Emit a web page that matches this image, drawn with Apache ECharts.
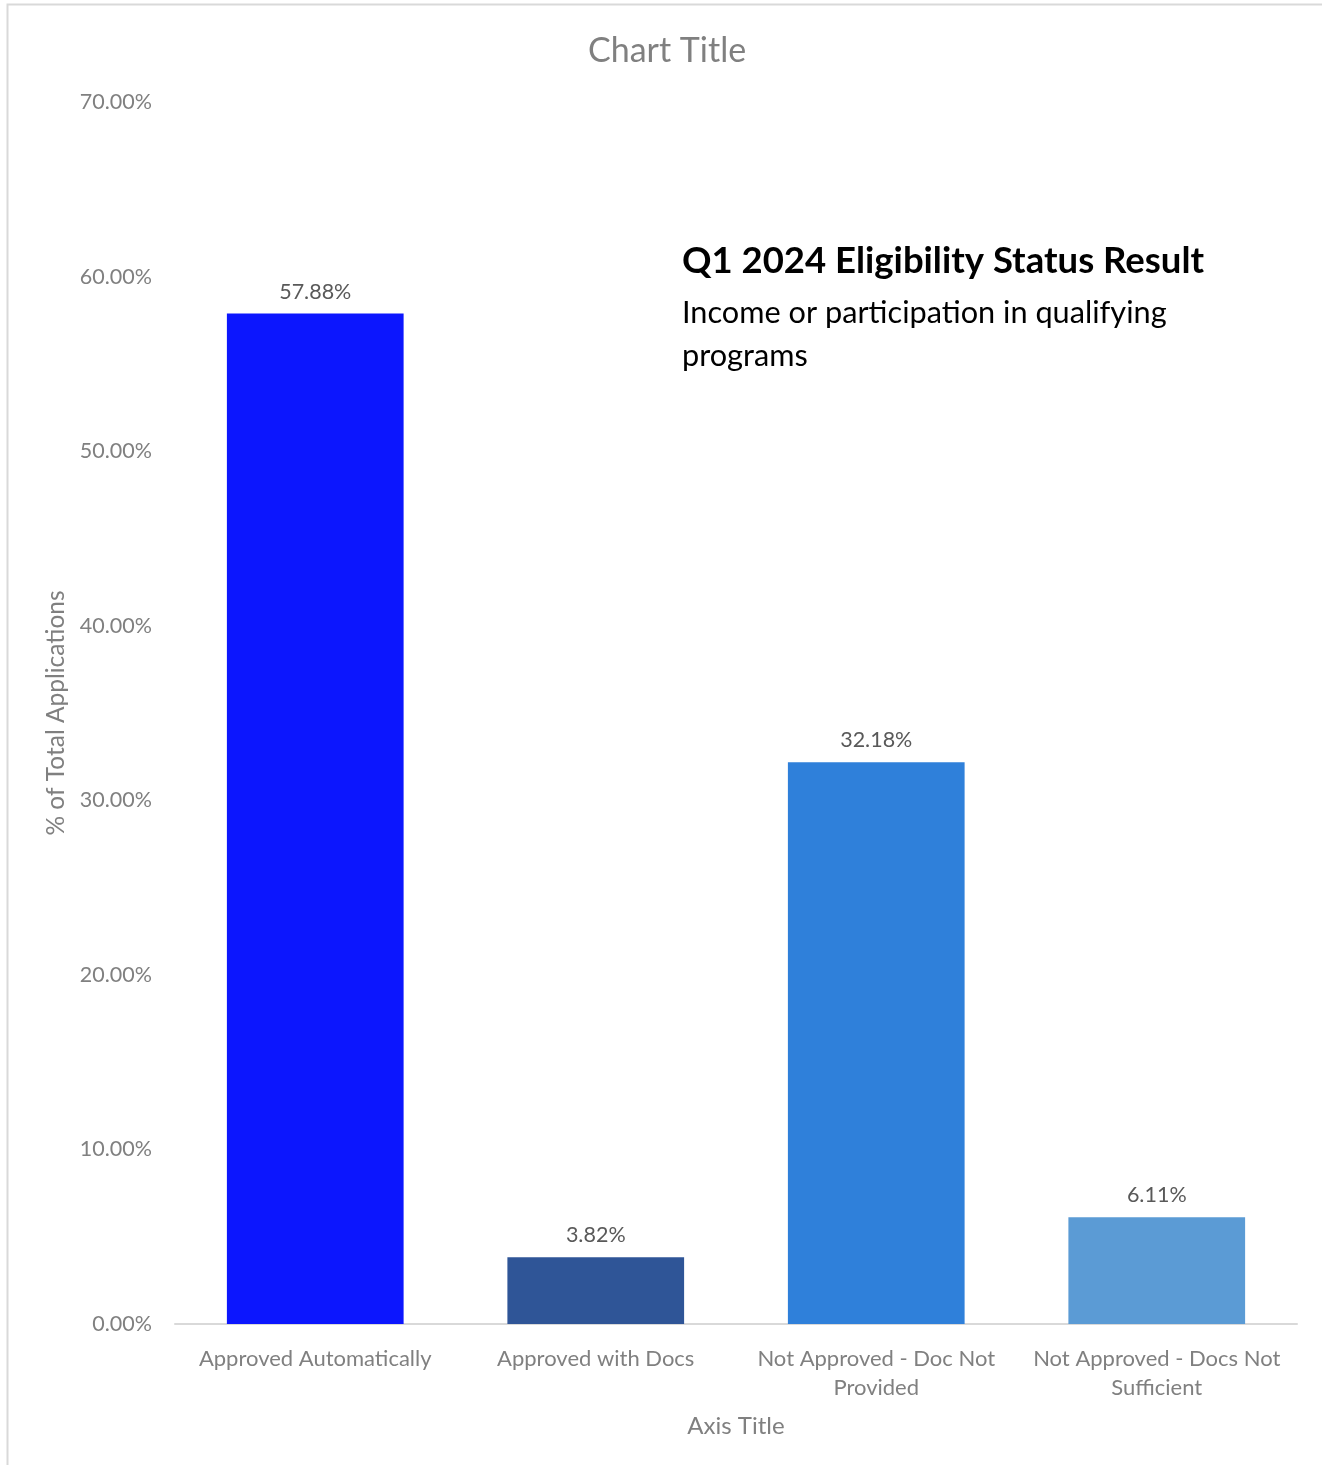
<!DOCTYPE html>
<html>
<head>
<meta charset="utf-8">
<script src="https://cdn.jsdelivr.net/npm/echarts@6/dist/echarts.min.js"></script>
<style>
html,body{margin:0;padding:0;background:#fff;}
#main{width:1322px;height:1465px;}
</style>
</head>
<body>
<div id="main"></div>
<script>
const categories = ['Approved Automatically', 'Approved with Docs', 'Not Approved - Doc Not\nProvided', 'Not Approved - Docs Not\nSufficient'];
const values = [0.5788, 0.0382, 0.3218, 0.0611];
const barColors = ['#0c16fe', '#2f5597', '#2f80da', '#5b9bd5'];
const yTicks = { min: 0, max: 0.7, interval: 0.1 };

const FONT = 'Lato, "Noto Sans", sans-serif';
const chart = echarts.init(document.getElementById('main'), null, { renderer: 'canvas' });
chart.setOption({
  backgroundColor: '#fff',
  animation: false,
  title: {
    text: 'Chart Title',
    left: 583,
    top: 29,
    textStyle: { color: '#808080', fontSize: 34, fontWeight: 'normal', fontFamily: FONT }
  },
  grid: { left: 175, right: 25, top: 102, bottom: 141, containLabel: false },
  xAxis: {
    type: 'category',
    data: categories,
    name: 'Axis Title',
    nameLocation: 'middle',
    nameGap: 90,
    nameTextStyle: { color: '#808080', fontSize: 24, fontFamily: FONT },
    axisLine: { lineStyle: { color: '#d9d9d9', width: 2 } },
    axisTick: { show: false },
    axisLabel: { color: '#808080', fontSize: 22, fontFamily: FONT, margin: 20, lineHeight: 29, interval: 0 }
  },
  yAxis: {
    type: 'value',
    min: yTicks.min,
    max: yTicks.max,
    interval: yTicks.interval,
    name: '% of Total Applications',
    nameLocation: 'middle',
    nameGap: 105,
    nameRotate: 90,
    nameTextStyle: { color: '#808080', fontSize: 24.5, fontFamily: FONT },
    splitLine: { show: false },
    axisLine: { show: false },
    axisTick: { show: false },
    axisLabel: {
      color: '#808080', fontSize: 21.5, fontFamily: FONT, margin: 23,
      formatter: v => (v * 100).toFixed(2) + '%'
    }
  },
  series: [{
    type: 'bar',
    data: values.map((v, i) => ({ value: v, itemStyle: { color: barColors[i] } })),
    barWidth: '63%',
    label: {
      show: true,
      position: 'top',
      distance: 11,
      color: '#595959',
      fontSize: 21.5,
      fontFamily: FONT,
      formatter: p => (p.value * 100).toFixed(2) + '%'
    }
  }],
  graphic: [
    {
      type: 'rect',
      shape: { x: 7.5, y: 4.5, width: 1330, height: 1480 },
      style: { fill: 'none', stroke: '#d9d9d9', lineWidth: 2 },
      silent: true, z: -1
    },
    {
      type: 'text',
      left: 682, top: 243,
      style: { text: 'Q1 2024 Eligibility Status Result', fill: '#000', fontSize: 36.5, fontWeight: 'bold', fontFamily: FONT }
    },
    {
      type: 'text',
      left: 682, top: 292,
      style: { text: 'Income or participation in qualifying\nprograms', fill: '#000', fontSize: 30.7, lineHeight: 43, fontFamily: FONT }
    }
  ]
});
</script>
</body>
</html>
